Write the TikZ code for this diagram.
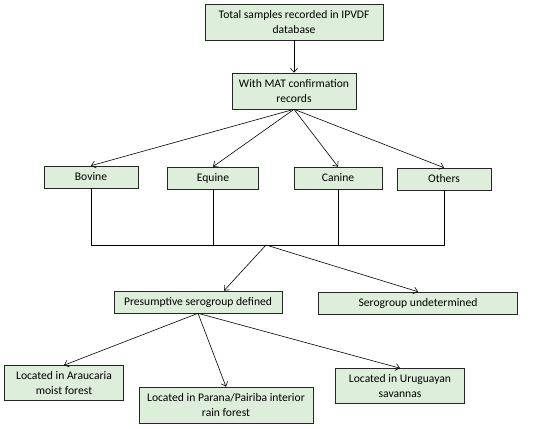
\documentclass[tikz,border=0pt]{standalone}
\usepackage{fontspec}
\setmainfont{Carlito}
\usepackage{xcolor}
\usetikzlibrary{arrows.meta, positioning}

\definecolor{boxgreen}{RGB}{221,239,218}

\begin{document}
\begin{tikzpicture}[x=1pt, y=-1pt, >={Straight Barb[length=4pt,width=7pt]},
        semithick, font=\fontsize{11.6}{15}\selectfont,
        box/.style={draw=black!85, fill=boxgreen, inner sep=0pt, align=center}]

        \useasboundingbox (0,0) rectangle (550,429);

        \node[box, minimum width=178pt, minimum height=36pt]  (total)  at (294,22)  {Total samples recorded in IPVDF\\database};
        \node[box, minimum width=124pt, minimum height=36pt]  (mat)    at (294,91)  {With MAT confirmation\\records};
        \node[box, minimum width=94pt,  minimum height=22pt]  (bovine) at (91,177)  {Bovine};
        \node[box, minimum width=91pt,  minimum height=22pt]  (equine) at (213,178) {Equine};
        \node[box, minimum width=88pt,  minimum height=22pt]  (canine) at (338,178) {Canine};
        \node[box, minimum width=94pt,  minimum height=22pt]  (others) at (444,179) {Others};
        \node[box, minimum width=168pt, minimum height=22pt]  (pres)   at (198,302) {Presumptive serogroup defined};
        \node[box, minimum width=199pt, minimum height=22pt]  (undet)  at (418,303) {Serogroup undetermined};
        \node[box, minimum width=119pt, minimum height=35pt]  (arau)   at (64,383)  {Located in Araucaria\\moist forest};
        \node[box, minimum width=174pt, minimum height=36pt]  (parana) at (226,405) {Located in Parana/Pairiba interior\\rain forest};
        \node[box, minimum width=129pt, minimum height=35pt]  (urug)   at (400,386) {Located in Uruguayan\\savannas};

        \coordinate (hub) at (266,245);

        \draw[->] (total) -- (mat);
        \draw[->] (mat.south) -- (bovine.north);
        \draw[->] (mat.south) -- (equine.north);
        \draw[->] (mat.south) -- (canine.north);
        \draw[->] (mat.south) -- (others.north);

        % species joined on one line
        \draw (bovine.south) -- (bovine.south |- hub) -- (others.south |- hub) -- (others.south);
        \draw (equine.south) -- (equine.south |- hub);
        \draw (canine.south) -- (canine.south |- hub);

        \draw[->] (hub) -- ([xshift=26pt]pres.north);
        \draw[->] (hub) -- (undet.north);

        \draw[->] (pres.south) -- (arau.north);
        \draw[->] (pres.south) -- (parana.north);
        \draw[->] (pres.south) -- (urug.north);

    \end{tikzpicture}
\end{document}
